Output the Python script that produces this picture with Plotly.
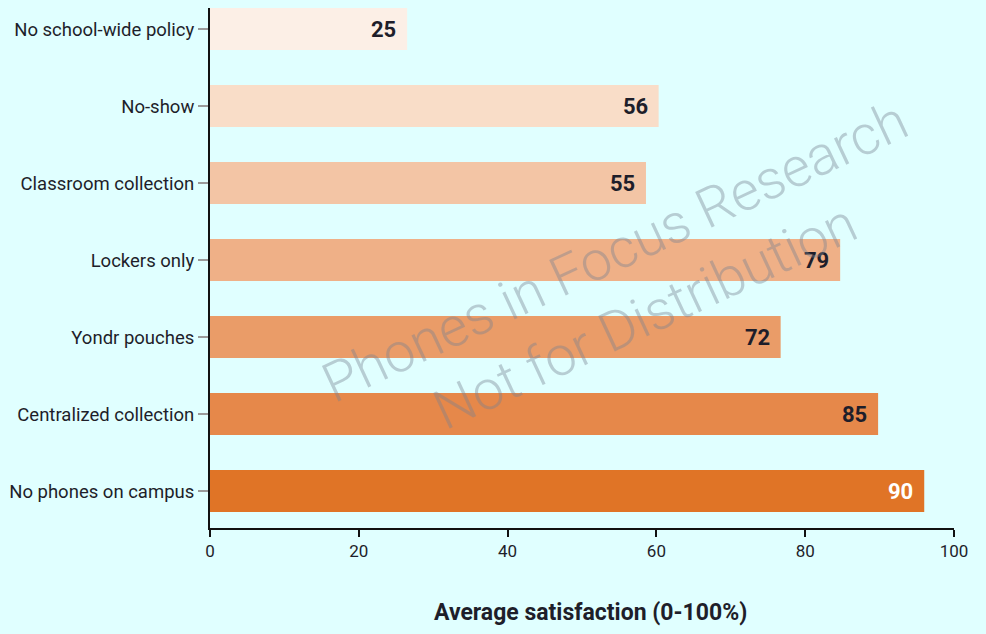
import plotly.graph_objects as go

categories = [
    "No school-wide policy",
    "No-show",
    "Classroom collection",
    "Lockers only",
    "Yondr pouches",
    "Centralized collection",
    "No phones on campus",
]
bar_values = [26.5, 60.3, 58.6, 84.7, 76.7, 89.8, 96.0]
label_values = [25, 56, 55, 79, 72, 85, 90]
bar_colors = ["#FCEFE6", "#F9DDC8", "#F3C5A5", "#EFB087", "#EA9C68", "#E6884A", "#E07426"]
label_colors = ["#1e1e2a"] * 6 + ["#FFFFFF"]
x_ticks = [0, 20, 40, 60, 80, 100]
x_title = "Average satisfaction (0-100%)"

BG = "#E0FFFF"

fig = go.Figure()
fig.add_trace(go.Bar(
    y=categories,
    x=bar_values,
    orientation="h",
    marker=dict(color=bar_colors, line=dict(width=0)),
    width=0.545,
    hoverinfo="skip",
))

for cat, v, lab, col in zip(categories, bar_values, label_values, label_colors):
    fig.add_annotation(
        x=v, y=cat, xref="x", yref="y",
        text=f"<b>{lab}</b>",
        showarrow=False, xanchor="right", xshift=-9,
        font=dict(family="Roboto", size=22, color=col),
    )

fig.add_annotation(
    x=0.565, y=0.47, xref="paper", yref="paper",
    text="Phones in Focus Research<br>Not for Distribution",
    showarrow=False, textangle=-25,
    font=dict(family="Roboto", size=55, color="rgba(120,130,145,0.40)", weight=300),
)

fig.add_annotation(
    x=0.512, y=-0.163, xref="paper", yref="paper",
    text=f"<b>{x_title}</b>", showarrow=False,
    xanchor="center", yanchor="middle",
    font=dict(family="Roboto", size=23, color="#1e1e2a"),
)

fig.update_layout(
    width=986, height=634,
    paper_bgcolor=BG, plot_bgcolor=BG,
    margin=dict(l=210, r=32, t=8, b=106),
    showlegend=False,
    font=dict(family="Roboto", color="#1e1e2a"),
    bargap=0.45,
)
fig.update_xaxes(
    range=[0, 100], tickvals=x_ticks, ticktext=[str(t) for t in x_ticks],
    showgrid=False, zeroline=False,
    showline=True, linecolor="#111", linewidth=2,
    ticks="outside", ticklen=7, tickwidth=2, tickcolor="#111",
    tickfont=dict(size=17, color="#1e1e2a"),
)
fig.update_yaxes(
    categoryorder="array", categoryarray=categories,
    range=[6.48, -0.273],
    showgrid=False, zeroline=False,
    showline=True, linecolor="#111", linewidth=2,
    ticks="outside", ticklen=10, tickwidth=2, tickcolor="#9a9a9a",
    tickfont=dict(size=18.5, color="#1e1e2a"),
)

fig.write_html(
    "out.html",
    config={"displayModeBar": False},
    post_script="document.body.style.margin='0';document.body.style.background='" + BG + "';",
)
